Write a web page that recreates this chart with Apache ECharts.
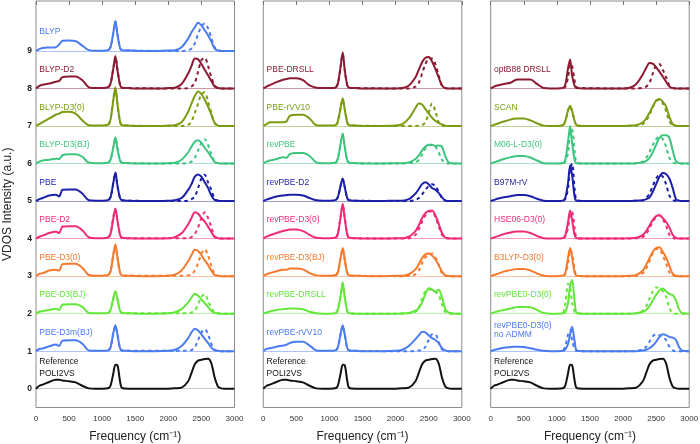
<!DOCTYPE html>
<html><head><meta charset="utf-8">
<script src="https://cdn.jsdelivr.net/npm/echarts@6/dist/echarts.min.js"></script>
<style>html,body{margin:0;padding:0;background:#fff}#c{width:700px;height:444px}</style>
</head><body><div id="c"></div>
<script>
// Frequency grids (cm^-1)
const FREQ = [0,50,100,200,300,350,400,500,600,700,800,900,1000,1100,1130,1170,1200,1230,1270,1300,1400,1600,1800,2000,2100,2200,2300,2350,2400,2450,2500,2550,2600,2650,2700,2750,2800,2850,2900,3000];
const FREQ_D = [1100,1130,1170,1200,1230,1270,1300,1400,2000,2100,2200,2300,2350,2400,2450,2500,2550,2600,2650,2700,2750,2800,2850,2900,3000];
const X_TICKS = [0,500,1000,1500,2000,2500,3000];
const Y_TICKS = [0,1,2,3,4,5,6,7,8,9];

// Reference (POLI2VS)
const ref = [0,.08,.11,.18,.24,.24,.22,.2,.17,.08, .01,0,0,.02,.1,.42,.64,.63,.2,.02, 0,0,0,0,.01,.03,.2,.42,.65,.75, .77,.79,.8,.68,.3,.06,.01,0,0,0];

// Panel 1 (solid = VDOS, dashed = second curve)
const blyp      = [0,.05,.08,.09,.1,.17,.27,.28,.26,.14, .02,.005,.005,.03,.12,.5,.8,.45,.08,.02, .01,0,0,.01,.02,.1,.33,.5,.63,.75, .68,.55,.42,.25,.06,.01,0,0,0,0];
const blyp_d    = [.03,.12,.5,.78,.47,.08,.02,.01, 0,0,0,.02,.06,.2,.45,.65,.73,.6,.35,.1,.02,0,0,0,0];
const blypD2    = [0,.07,.1,.13,.18,.2,.3,.32,.32,.22, .03,.01,.01,.04,.15,.55,.86,.5,.1,.02, .01,0,0,.01,.02,.12,.4,.6,.8,.78, .65,.5,.35,.2,.05,.01,0,0,0,0];
const blypD2_d  = [.04,.15,.55,.85,.52,.1,.02,.01, 0,0,0,.01,.05,.15,.45,.75,.82,.6,.3,.08,.01,0,0,0,0];
const blypD30   = [0,.05,.1,.2,.3,.33,.37,.38,.33,.15, .02,.01,.01,.05,.2,.7,1.03,.6,.12,.02, .01,0,0,.01,.02,.1,.38,.6,.8,.92, .85,.7,.52,.3,.08,.01,0,0,0,0];
const blypD30_d = [.05,.22,.75,1.0,.6,.12,.02,.01, 0,0,0,.03,.12,.35,.6,.85,.9,.65,.35,.08,.01,0,0,0,0];
const blypBJ    = [0,.05,.08,.1,.13,.12,.22,.25,.25,.18, .02,.01,.01,.03,.12,.45,.7,.4,.08,.02, .01,0,0,.01,.02,.1,.3,.45,.58,.62, .55,.42,.3,.17,.04,.01,0,0,0,0];
const blypBJ_d  = [.03,.12,.45,.68,.42,.08,.02,.01, 0,0,0,.02,.05,.15,.35,.55,.65,.5,.25,.05,.01,0,0,0,0];
const pbe       = [0,.05,.08,.15,.17,.12,.3,.31,.31,.2, .02,.01,.01,.03,.12,.5,.76,.42,.08,.02, .01,0,0,.01,.02,.08,.3,.45,.65,.71, .65,.5,.35,.15,.03,.01,0,0,0,0];
const pbe_d     = [.03,.12,.5,.75,.42,.08,.02,.01, 0,0,0,.01,.05,.12,.35,.6,.7,.5,.3,.05,.01,0,0,0,0];
const pbeD2     = [0,.05,.08,.15,.18,.15,.32,.33,.33,.22, .03,.01,.01,.04,.15,.55,.8,.5,.1,.02, .01,0,0,.01,.04,.14,.38,.55,.7,.66, .55,.45,.32,.18,.04,.01,0,0,0,0];
const pbeD2_d   = [.04,.15,.6,.78,.5,.1,.02,.01, .01,.01,.01,.01,.04,.12,.3,.55,.7,.55,.3,.05,.01,0,0,0,0];
const pbeD30    = [0,.06,.08,.15,.17,.15,.32,.33,.33,.22, .03,.01,.01,.04,.15,.58,.84,.52,.1,.02, .01,0,0,.01,.04,.15,.4,.56,.7,.67, .56,.42,.3,.15,.03,.01,0,0,0,0];
const pbeD30_d  = [.04,.15,.6,.82,.5,.1,.02,.01, .01,.01,.01,.02,.05,.15,.35,.6,.72,.55,.28,.05,.01,0,0,0,0];
const pbeBJ     = [0,.05,.07,.1,.13,.1,.24,.25,.25,.18, .02,.01,.01,.03,.12,.42,.6,.4,.08,.02, .01,0,0,.01,.04,.12,.3,.43,.53,.48, .38,.28,.18,.08,.02,.01,0,0,0,0];
const pbeBJ_d   = [.03,.12,.42,.58,.4,.08,.02,.01, .01,.01,.01,.01,.03,.08,.25,.45,.52,.35,.15,.03,.01,0,0,0,0];
const pbeD3m    = [0,.06,.07,.13,.18,.14,.28,.29,.29,.2, .02,.01,.01,.03,.12,.5,.69,.45,.08,.02, .01,0,0,.01,.04,.14,.35,.5,.6,.55, .45,.33,.22,.1,.02,.01,0,0,0,0];
const pbeD3m_d  = [.03,.12,.5,.67,.45,.08,.02,.01, .01,.01,.01,.01,.03,.1,.3,.5,.59,.45,.2,.04,.01,0,0,0,0];

// Panel 2
const pbeDRSLL    = [0,.05,.09,.17,.23,.25,.27,.27,.22,.08, .02,.01,.01,.03,.15,.6,.96,.5,.08,.02, .01,0,0,0,.01,.08,.3,.5,.7,.82, .84,.72,.52,.3,.08,.01,0,0,0,0];
const pbeDRSLL_d  = [.03,.15,.6,.92,.5,.08,.02,.01, 0,0,0,.05,.15,.4,.65,.8,.8,.65,.35,.08,.01,0,0,0,0];
const pbeRVV      = [0,.05,.1,.1,.1,.12,.27,.3,.3,.2, .02,.01,.01,.03,.15,.5,.74,.45,.08,.02, .01,0,0,.01,.05,.2,.48,.6,.57,.45, .33,.22,.14,.08,.04,.01,0,0,0,0];
const pbeRVV_d    = [.03,.12,.5,.7,.45,.08,.02,.01, 0,0,0,0,.01,.02,.1,.35,.6,.4,.1,.01,0,0,0,0,0];
const revpbe      = [0,.05,.08,.12,.17,.15,.25,.28,.28,.2, .03,.01,.01,.03,.15,.55,.8,.45,.08,.02, .01,0,0,.01,.01,.03,.12,.22,.35,.45, .5,.5,.47,.48,.45,.2,.03,.01,0,0];
const revpbe_d    = [.03,.15,.55,.78,.45,.08,.02,.01, 0,0,.01,.03,.1,.25,.4,.5,.48,.45,.3,.1,.02,0,0,0,0];
const revD2       = [0,.04,.07,.12,.15,.16,.17,.17,.15,.08, .02,.01,.01,.03,.12,.42,.6,.38,.07,.02, .01,0,0,.01,.01,.05,.2,.32,.45,.5, .45,.35,.3,.22,.1,.02,0,0,0,0];
const revD2_d     = [.03,.12,.42,.58,.38,.07,.02,.01, 0,0,0,.03,.08,.18,.3,.4,.45,.4,.25,.08,.01,0,0,0,0];
const revD30      = [0,.05,.09,.15,.2,.22,.24,.24,.2,.1, .02,.01,.01,.03,.15,.6,.93,.55,.1,.02, .01,0,0,.01,.01,.05,.2,.35,.55,.68, .74,.75,.62,.4,.15,.03,.01,0,0,0];
const revD30_d    = [.03,.15,.6,.9,.55,.1,.02,.01, 0,0,.01,.1,.25,.45,.62,.72,.72,.58,.33,.1,.02,0,0,0,0];
const revBJ       = [0,.05,.08,.13,.17,.17,.2,.2,.18,.08, .02,.01,.01,.03,.12,.5,.75,.45,.08,.02, .01,0,0,.01,.01,.05,.18,.32,.48,.58, .6,.55,.45,.3,.12,.02,.01,0,0,0];
const revBJ_d     = [.03,.12,.5,.73,.45,.08,.02,.01, 0,0,.01,.05,.15,.35,.5,.58,.6,.5,.3,.08,.01,0,0,0,0];
const revDRSLL    = [0,.03,.06,.1,.12,.13,.14,.14,.12,.05, .01,0,0,.02,.12,.5,.84,.45,.06,.01, 0,0,0,0,.01,.02,.08,.15,.3,.52, .68,.65,.58,.64,.45,.12,.03,.01,0,0];
const revDRSLL_d  = [.02,.12,.5,.8,.45,.06,.01,0, 0,0,.01,.05,.15,.4,.6,.65,.62,.58,.5,.25,.05,.01,0,0,0];
const revRVV      = [0,.06,.08,.12,.15,.17,.22,.25,.25,.15, .02,.01,.01,.03,.12,.48,.69,.45,.08,.02, .01,0,0,.01,.04,.14,.32,.42,.52,.5, .42,.35,.3,.22,.08,.02,0,0,0,0];
const revRVV_d    = [.03,.12,.48,.67,.45,.08,.02,.01, 0,0,0,.01,.02,.03,.12,.3,.45,.45,.25,.05,.01,0,0,0,0];

// Panel 3
const optB88      = [0,.05,.08,.12,.15,.2,.24,.24,.24,.12, .01,0,0,.02,.12,.55,.77,.35,.06,.01, 0,0,0,0,.02,.12,.38,.55,.68,.66, .56,.45,.32,.18,.05,.01,0,0,0,0];
const optB88_d    = [.01,.05,.3,.65,.6,.2,.03,.01, 0,0,0,.02,.05,.15,.4,.62,.65,.5,.3,.08,.01,0,0,0,0];
const scan        = [0,.03,.06,.12,.17,.19,.2,.2,.15,.07, .01,0,0,.03,.15,.42,.53,.4,.12,.02, 0,0,0,0,.01,.02,.1,.2,.35,.52, .68,.72,.65,.52,.25,.05,.01,0,0,0];
const scan_d      = [.03,.15,.42,.52,.4,.12,.02,0, 0,0,.01,.05,.15,.3,.5,.66,.7,.6,.4,.12,.02,0,0,0,0];
const m06l        = [0,.03,.06,.12,.17,.19,.2,.2,.16,.08, .01,0,0,.02,.12,.6,1.0,.55,.08,.01, 0,0,0,0,0,.01,.03,.07,.15,.3, .5,.68,.75,.75,.68,.35,.06,.01,0,0];
const m06l_d      = [.01,.06,.3,.85,.9,.3,.03,0, 0,0,.01,.05,.15,.3,.5,.65,.72,.65,.45,.15,.03,0,0,0,0];
const b97m        = [0,.03,.06,.1,.13,.15,.16,.16,.13,.06, .01,0,0,.02,.1,.5,.95,.7,.1,.01, 0,0,0,0,0,.01,.02,.05,.1,.25, .45,.65,.75,.72,.6,.35,.05,.01,0,0];
const b97m_d      = [.01,.06,.35,.85,1.0,.3,.03,0, 0,0,.01,.02,.08,.2,.4,.6,.7,.65,.45,.15,.03,0,0,0,0];
const hse06       = [0,.03,.06,.12,.16,.18,.19,.19,.15,.07, .01,0,0,.02,.1,.45,.75,.5,.08,.01, 0,0,0,0,.01,.02,.1,.2,.35,.5, .6,.62,.55,.45,.3,.1,.02,0,0,0];
const hse06_d     = [.01,.06,.3,.65,.7,.25,.03,0, 0,0,.01,.05,.12,.28,.45,.58,.62,.52,.35,.1,.02,0,0,0,0];
const b3lyp       = [0,.03,.06,.12,.16,.18,.19,.19,.15,.07, .01,0,0,.02,.1,.5,.75,.5,.08,.01, 0,0,0,0,.01,.03,.15,.3,.48,.65, .75,.77,.65,.5,.28,.06,.01,0,0,0];
const b3lyp_d     = [.01,.06,.35,.7,.6,.15,.02,0, 0,0,.01,.08,.2,.4,.6,.72,.72,.55,.35,.1,.02,0,0,0,0];
const rp0         = [0,.03,.06,.1,.14,.16,.18,.18,.17,.1, .02,0,0,.01,.05,.3,.75,.9,.3,.02, 0,0,0,0,0,.01,.05,.1,.2,.35, .5,.62,.67,.6,.52,.5,.35,.1,.01,0];
const rp0_d       = [.02,.3,.8,.7,.3,.05,.01,0, 0,0,.01,.08,.2,.4,.6,.7,.68,.6,.45,.15,.02,0,0,0,0];
const rp0n        = [0,.03,.05,.09,.11,.12,.12,.11,.08,.04, .01,0,0,.01,.05,.2,.45,.65,.25,.02, 0,0,0,0,0,0,.02,.04,.08,.15, .25,.38,.45,.43,.38,.36,.3,.1,.01,0];
const rp0n_d      = [.02,.15,.45,.56,.3,.05,.01,0, 0,0,.01,.05,.12,.25,.4,.45,.43,.38,.3,.12,.02,0,0,0,0];

const C = {blue:'#4a7bf0', maroon:'#8c1a33', olive:'#7b9c12', sea:'#3ec47e', navy:'#1c1fa8',
           pink:'#ef2a76', orange:'#f57a2e', green:'#62e63a', black:'#111111'};

const panels = [
  [ ['BLYP',C.blue,9,blyp,blyp_d], ['BLYP-D2',C.maroon,8,blypD2,blypD2_d], ['BLYP-D3(0)',C.olive,7,blypD30,blypD30_d],
    ['BLYP-D3(BJ)',C.sea,6,blypBJ,blypBJ_d], ['PBE',C.navy,5,pbe,pbe_d], ['PBE-D2',C.pink,4,pbeD2,pbeD2_d],
    ['PBE-D3(0)',C.orange,3,pbeD30,pbeD30_d], ['PBE-D3(BJ)',C.green,2,pbeBJ,pbeBJ_d], ['PBE-D3m(BJ)',C.blue,1,pbeD3m,pbeD3m_d],
    ['Reference\nPOLI2VS',C.black,0,ref,null] ],
  [ ['PBE-DRSLL',C.maroon,8,pbeDRSLL,pbeDRSLL_d], ['PBE-rVV10',C.olive,7,pbeRVV,pbeRVV_d], ['revPBE',C.sea,6,revpbe,revpbe_d],
    ['revPBE-D2',C.navy,5,revD2,revD2_d], ['revPBE-D3(0)',C.pink,4,revD30,revD30_d], ['revPBE-D3(BJ)',C.orange,3,revBJ,revBJ_d],
    ['revPBE-DRSLL',C.green,2,revDRSLL,revDRSLL_d], ['revPBE-rVV10',C.blue,1,revRVV,revRVV_d], ['Reference\nPOLI2VS',C.black,0,ref,null] ],
  [ ['optB88 DRSLL',C.maroon,8,optB88,optB88_d], ['SCAN',C.olive,7,scan,scan_d], ['M06-L-D3(0)',C.sea,6,m06l,m06l_d],
    ['B97M-rV',C.navy,5,b97m,b97m_d], ['HSE06-D3(0)',C.pink,4,hse06,hse06_d], ['B3LYP-D3(0)',C.orange,3,b3lyp,b3lyp_d],
    ['revPBE0-D3(0)',C.green,2,rp0,rp0_d], ['revPBE0-D3(0)\nno ADMM',C.blue,1,rp0n,rp0n_d],
    ['Reference\nPOLI2VS',C.black,0,ref,null] ]
];

function pale(hex){
  if(hex===C.black) return '#c8c8c8';
  const n=parseInt(hex.slice(1),16); let r=n>>16,g=(n>>8)&255,b=n&255;
  const m=v=>Math.round(v+(255-v)*0.55);
  return 'rgb('+m(r)+','+m(g)+','+m(b)+')';
}

const lefts=[36,263.3,490.7], W=198.5;
const grids=[], xAxes=[], yAxes=[], series=[];
const FONT='Liberation Sans, Arial, sans-serif';
panels.forEach((rows,p)=>{
  grids.push({left:lefts[p], width:W, top:1, height:406.5, outerBoundsMode:'none', containLabel:false,
    show:true, borderColor:'#8c8c8c', borderWidth:1, backgroundColor:'transparent'});
  xAxes.push({gridIndex:p, type:'value', min:0, max:3000, position:'bottom',
    axisLine:{show:false}, axisTick:{show:false}, splitLine:{show:false},
    axisLabel:{customValues:X_TICKS, formatter:v=>String(v), fontSize:8, color:'#333', margin:7, fontFamily:FONT},
    name:'Frequency (cm⁻¹)', nameLocation:'middle', nameGap:23,
    nameTextStyle:{fontSize:12, color:'#222', fontFamily:FONT}});
  xAxes.push({gridIndex:p, type:'value', min:0, max:3000, position:'top',
    axisLine:{show:false}, axisLabel:{show:false}, splitLine:{show:false},
    axisTick:{show:true, inside:true, length:4, customValues:X_TICKS, lineStyle:{color:'#777'}}});
  yAxes.push({gridIndex:p, type:'value', min:-0.5, max:10.33,
    axisLine:{show:false}, axisTick:{show:false}, splitLine:{show:false},
    axisLabel: p===0 ? {customValues:Y_TICKS, fontSize:8.5, fontWeight:'bold', color:'#222', margin:4, fontFamily:FONT} : {show:false},
    name: p===0 ? 'VDOS Intensity (a.u.)' : '', nameLocation:'middle', nameGap:22,
    nameTextStyle:{fontSize:12, color:'#222', fontFamily:FONT}});
  rows.forEach(([name,color,off,solid,dashed])=>{
    if(dashed){
      series.push({type:'line', xAxisIndex:2*p, yAxisIndex:p, showSymbol:false, smooth:0.3, silent:true,
        data:FREQ_D.map((f,i)=>[f, off+dashed[i]]),
        lineStyle:{color, width:2, type:[3.5,3.5]}, z:3});
    }
    const lines=name.split('\n');
    series.push({type:'line', xAxisIndex:2*p, yAxisIndex:p, showSymbol:false, smooth:0.3, silent:true,
      data:FREQ.map((f,i)=>[f, off+solid[i]]),
      lineStyle:{color, width:2}, z:4,
      markLine:{silent:true, symbol:'none', label:{show:false}, z:2,
        lineStyle:{color:pale(color), width:1, type:'solid'}, data:[{yAxis:off}]},
      markPoint:{silent:true, symbol:'circle', symbolSize:0,
        data:[{coord:[50, off + (lines.length>1?0.56:0.5)]}],
        label:{show:true, position:'right', distance:0, formatter:name, color:color,
          fontSize:8.5, lineHeight: lines[1]==='no ADMM'?8.5:11.5, fontFamily:FONT}}});
  });
});

const chart=echarts.init(document.getElementById('c'),null,{renderer:'canvas'});
chart.setOption({animation:false, grid:grids, xAxis:xAxes, yAxis:yAxes, series});
</script></body></html>
